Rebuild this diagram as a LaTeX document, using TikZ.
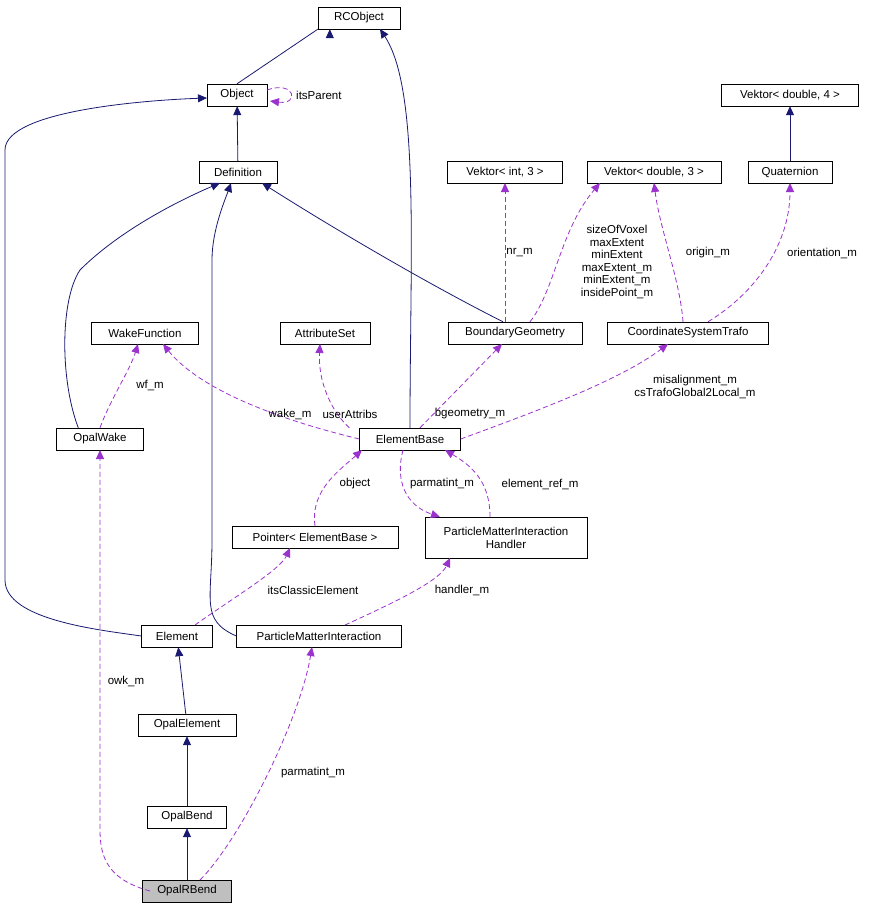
\documentclass[tikz,border=0pt]{standalone}
\usepackage{fontspec}
\setmainfont{Liberation Sans}
\usetikzlibrary{arrows.meta}
\begin{document}
\begin{tikzpicture}[x=1pt,y=-1pt,
  every node/.style={font=\fontsize{11.5}{13}\selectfont},
  box/.style={draw,fill=white,inner sep=0pt,minimum height=22pt,align=center},
  inh/.style={draw={rgb,255:red,25;green,25;blue,112},line width=0.8pt,-{Triangle[length=9pt,width=8pt]}},
  use/.style={draw={rgb,255:red,154;green,50;blue,205},dashed,dash pattern=on 5pt off 3pt,line width=0.8pt,-{Triangle[length=9pt,width=8pt]}},
  lab/.style={align=center,inner sep=1pt,font=\fontsize{11.5}{12.5}\selectfont}]
\useasboundingbox (0,0) rectangle (869,915);
\node[box,minimum width=82pt] (rc) at (359,18) {RCObject};
\node[box,minimum width=60pt] (obj) at (237,95) {Object};
\node[box,minimum width=78pt] (def) at (238,172) {Definition};
\node[box,minimum width=137pt] (v4) at (790,95) {Vektor< double, 4 >};
\node[box,minimum width=115pt] (vi3) at (505,172) {Vektor< int, 3 >};
\node[box,minimum width=134pt] (vd3) at (654,172) {Vektor< double, 3 >};
\node[box,minimum width=84pt] (q) at (790,172) {Quaternion};
\node[box,minimum width=107pt] (wf) at (145,333) {WakeFunction};
\node[box,minimum width=90pt] (as) at (325,333) {AttributeSet};
\node[box,minimum width=134pt] (bg) at (515,333) {BoundaryGeometry};
\node[box,minimum width=161pt] (cs) at (688,333) {CoordinateSystemTrafo};
\node[box,minimum width=87pt] (ow) at (100,439) {OpalWake};
\node[box,minimum width=101pt] (eb) at (410,439) {ElementBase};
\node[box,minimum width=166pt] (ptr) at (315,537) {Pointer< ElementBase >};
\node[box,minimum width=162pt,minimum height=41pt] (pmih) at (506,537.5) {ParticleMatterInteraction\\Handler};
\node[box,minimum width=71pt] (el) at (177,636) {Element};
\node[box,minimum width=165pt] (pmi) at (319,636) {ParticleMatterInteraction};
\node[box,minimum width=98pt] (oe) at (187,725) {OpalElement};
\node[box,minimum width=79pt] (ob) at (187,817) {OpalBend};
\node[box,minimum width=89pt,fill={rgb,255:red,191;green,191;blue,191}] (orb) at (187,891) {OpalRBend};
% inheritance
\draw[inh] (obj.north) -- (rc.south west) ++(12,0);
\draw[inh] (eb.north) .. controls (410,250) and (420,90) .. (380,29);
\draw[inh] (def) -- (obj);
\draw[inh] (el.west) .. controls (100,630) and (5,620) .. (5,580) -- (5,150) .. controls (5,110) and (150,100) .. (207,98);
\draw[inh] (ow.north west) ++(22,0) .. controls (60,380) and (60,300) .. (80,270) .. controls (120,230) and (180,200) .. (220,183);
\draw[inh] (pmi.west) .. controls (200,620) and (212,600) .. (212,540) -- (212,260) .. controls (212,230) and (225,200) .. (231,183);
\draw[inh] (bg.north) ++(-12,0) .. controls (420,280) and (320,220) .. (262,183);
\draw[inh] (q) -- (v4);
\draw[inh] (oe) -- (el);
\draw[inh] (ob) -- (oe);
\draw[inh] (orb) -- (ob);
% usage
\draw[use] (267,90) .. controls (295,80) and (300,105) .. (270,101);
\node[lab,anchor=west] at (295,95) {itsParent};
\draw[use] (bg.north) ++(-10,0) -- (505,183) node[lab,pos=0.5,right] {nr\_m};
\draw[use] (bg.north) ++(15,0) .. controls (555,290) and (560,230) .. (600,183);
\node[lab] (l1) at (617,262) {sizeOfVoxel\\maxExtent\\minExtent\\maxExtent\_m\\minExtent\_m\\insidePoint\_m};
\draw[use] (cs.north) ++(-5,0) .. controls (680,280) and (660,230) .. (654,183);
\node[lab] at (708,253) {origin\_m};
\draw[use] (cs.north) ++(20,0) .. controls (760,290) and (790,240) .. (790,183);
\node[lab] at (822,253) {orientation\_m};
\draw[use] (eb.west) .. controls (280,420) and (200,390) .. (163,344);
\node[lab] at (290,414) {wake\_m};
\draw[use] (eb.north west) ++(-10,0) .. controls (330,410) and (318,380) .. (320,344);
\node[lab] at (350,414) {userAttribs};
\draw[use] (eb.north) ++(10,0) -- (502,344);
\node[lab] at (470,414) {bgeometry\_m};
\draw[use] (eb.east) .. controls (540,410) and (620,380) .. (668,344);
\node[lab] at (695,387) {misalignment\_m\\csTrafoGlobal2Local\_m};
\draw[use] (ow.north) .. controls (110,400) and (130,370) .. (138,344);
\node[lab] at (150,385) {wf\_m};
\draw[use] (ptr.north) .. controls (310,490) and (340,470) .. (362,450);
\node[lab] at (355,484) {object};
\draw[use] (403,450) .. controls (395,480) and (405,505) .. (440,517);
\node[lab] at (442,484) {parmatint\_m};
\draw[use] (490,517) .. controls (490,480) and (470,465) .. (445,450);
\node[lab] at (540,484) {element\_ref\_m};
\draw[use] (195,625) .. controls (230,600) and (280,570) .. (290,548);
\node[lab] at (313,590) {itsClassicElement};
\draw[use] (345,625) .. controls (400,600) and (440,580) .. (450,558);
\node[lab] at (462,590) {handler\_m};
\draw[use] (150,891) .. controls (110,880) and (100,860) .. (100,830) -- (100,450);
\node[lab] at (126,681) {owk\_m};
\draw[use] (200,880) .. controls (240,840) and (300,720) .. (312,647);
\node[lab] at (313,773) {parmatint\_m};
\end{tikzpicture}
\end{document}
